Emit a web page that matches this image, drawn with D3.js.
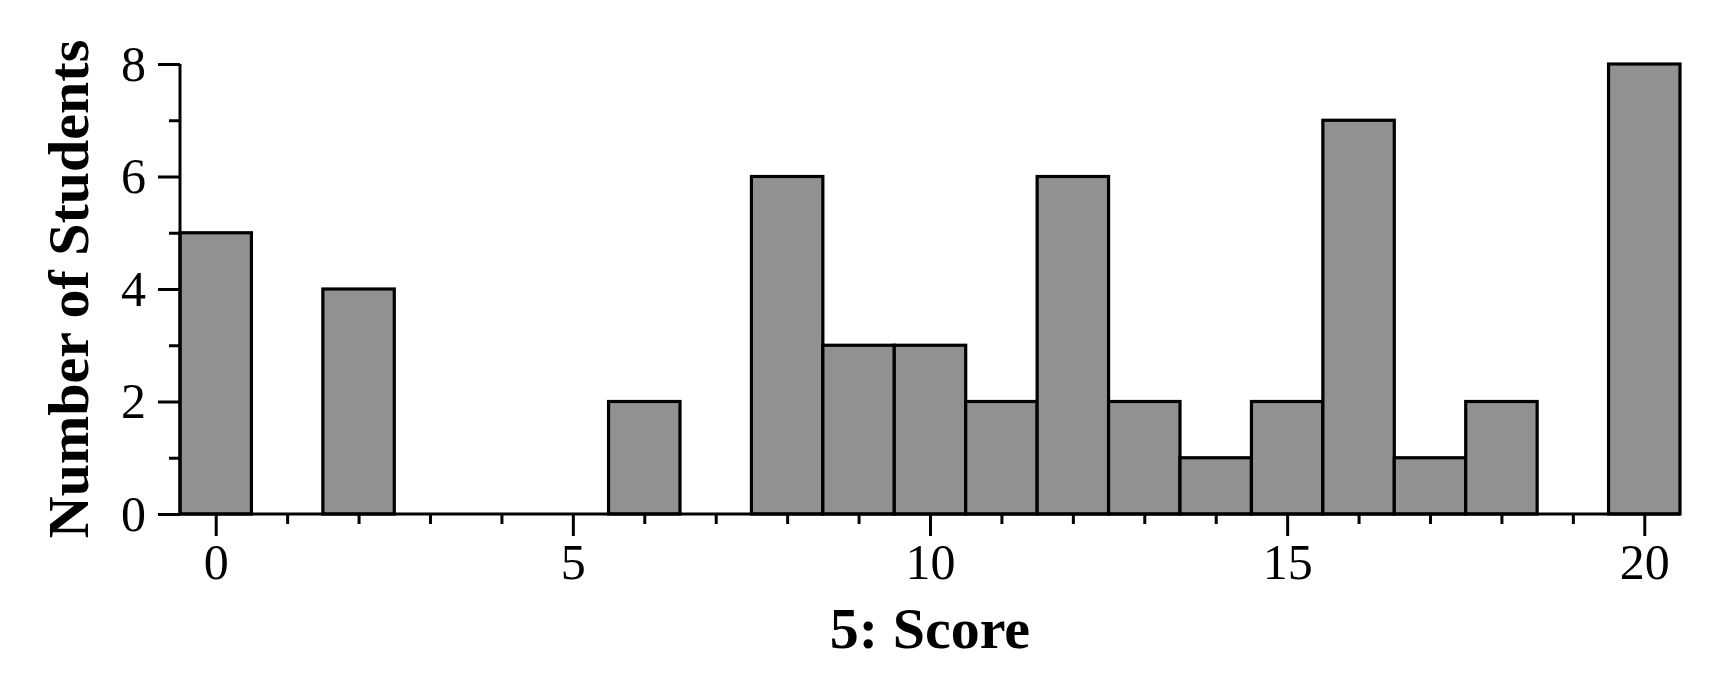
<!DOCTYPE html>
<html>
<head>
<meta charset="utf-8">
<script src="https://cdn.jsdelivr.net/npm/d3@7"></script>
<style>
  html, body { margin: 0; padding: 0; background: #fff; }
  svg { display: block; }
</style>
</head>
<body>
<div id="chart"></div>
<script>
// score values (bin centres) and how many students got each
const scores = d3.range(0, 21);
const counts = [5, 0, 4, 0, 0, 0, 2, 0, 6, 3, 3, 2, 6, 2, 1, 2, 7, 1, 2, 0, 8];
const xMajorTicks = [0, 5, 10, 15, 20];
const yMajorTicks = [0, 2, 4, 6, 8];

const xTitle = "5: Score";
const yTitle = "Number of Students";

const width = 1727, height = 680;
const margin = { top: 64, right: 47, bottom: 166, left: 180 };
const innerW = width - margin.left - margin.right;
const innerH = height - margin.top - margin.bottom;

const svg = d3.select("#chart")
  .append("svg")
  .attr("width", width)
  .attr("height", height)
  .style("font-family", "'Liberation Serif', 'Times New Roman', serif");

const g = svg.append("g")
  .attr("transform", `translate(${margin.left},${margin.top})`);

// scales
const x = d3.scaleLinear().domain([-0.5, 20.5]).range([0, innerW]);
const y = d3.scaleLinear().domain([0, 8]).range([innerH, 0]);

// bars
const data = scores.map((s, i) => ({ score: s, count: counts[i] }));
g.selectAll(".bar")
  .data(data.filter((d) => d.count > 0))
  .enter()
  .append("rect")
  .attr("class", "bar")
  .attr("x", (d) => x(d.score - 0.5))
  .attr("width", (d) => x(d.score + 0.5) - x(d.score - 0.5))
  .attr("y", (d) => y(d.count))
  .attr("height", (d) => y(0) - y(d.count))
  .style("fill", "#919191")
  .style("stroke", "#000")
  .style("stroke-width", 3.2);

// x axis: major ticks every 5, minor every 1
const xMinor = scores.filter((s) => s % 5 !== 0);
const xAxis = g.append("g").attr("transform", `translate(0,${innerH})`);
xAxis.call(
  d3.axisBottom(x).tickValues(xMinor).tickSize(10).tickFormat("")
);
xAxis.append("g").call(
  d3.axisBottom(x).tickValues(xMajorTicks).tickSize(22).tickPadding(7).tickFormat(d3.format("d"))
);

// y axis
const yMinor = [1, 3, 5, 7];
const yAxis = g.append("g");
yAxis.call(d3.axisLeft(y).tickValues(yMinor).tickSize(11).tickFormat(""));
yAxis.append("g").call(
  d3.axisLeft(y).tickValues(yMajorTicks).tickSize(22).tickPadding(12).tickFormat(d3.format("d"))
);

svg.selectAll(".tick line").style("stroke", "#000").style("stroke-width", 3);
svg.selectAll(".tick text")
  .style("font-family", "'Liberation Serif', 'Times New Roman', serif")
  .style("font-size", "50px")
  .style("fill", "#000");

// plain axis lines without end caps
g.selectAll(".domain").remove();
g.append("line")
  .attr("x1", 0).attr("x2", innerW)
  .attr("y1", innerH).attr("y2", innerH)
  .style("stroke", "#000").style("stroke-width", 3);
g.append("line")
  .attr("x1", 0).attr("x2", 0)
  .attr("y1", 0).attr("y2", innerH)
  .style("stroke", "#000").style("stroke-width", 3);

// axis titles
svg.append("text")
  .attr("x", margin.left + innerW / 2)
  .attr("y", 648)
  .attr("text-anchor", "middle")
  .style("font-size", "58px")
  .style("font-weight", "bold")
  .text(xTitle);

svg.append("text")
  .attr("transform", `translate(88,${margin.top + innerH / 2}) rotate(-90)`)
  .attr("text-anchor", "middle")
  .style("font-size", "58px")
  .style("font-weight", "bold")
  .text(yTitle);
</script>
</body>
</html>
